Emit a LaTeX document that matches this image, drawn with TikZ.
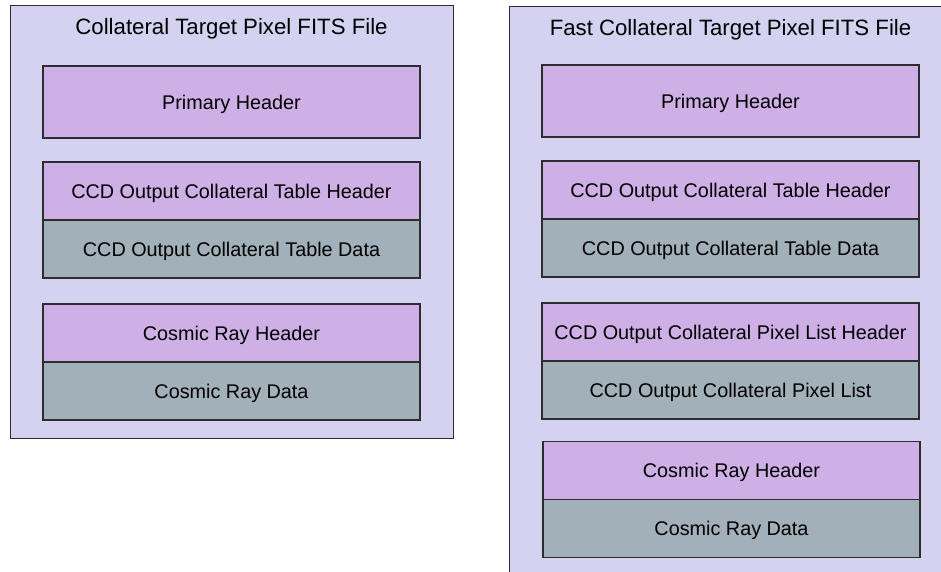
\documentclass[tikz,border=0pt]{standalone}
\usepackage{fontspec}
\setmainfont{Liberation Sans}
\usetikzlibrary{positioning}

\definecolor{filebg}{RGB}{212,210,240}
\definecolor{hdrfill}{RGB}{206,176,230}
\definecolor{datfill}{RGB}{162,176,186}
\definecolor{edgegray}{RGB}{45,45,45}

\tikzset{
  filebox/.style={draw=edgegray, fill=filebg, line width=1pt, minimum width=443pt, inner sep=0pt, outer sep=0pt},
  filetitle/.style={font=\fontsize{22.2}{24}\selectfont, inner sep=0pt, text height=15.9pt, text depth=0pt},
  hdrbox/.style={draw=edgegray, fill=hdrfill, line width=1.2pt, minimum width=377pt, minimum height=58pt,
    inner sep=0pt, outer sep=0pt, text height=14.2pt, text depth=0pt, font=\fontsize{19.8}{22}\selectfont},
  datbox/.style={hdrbox, fill=datfill},
}

\begin{document}
\begin{tikzpicture}[x=1pt,y=-1pt]
\clip (0,0) rectangle (941,572);
\fill[white] (0,0) rectangle (941,572);

% Collateral file
\node[filebox, minimum height=432pt] (lfile) at (231.5,222) {};
\node[filetitle] (ltitle) at (231.5,27) {Collateral Target Pixel FITS File};
\node[hdrbox, minimum height=72pt] (lprim) at (231.5,102) {Primary Header};
\node[hdrbox] (ltblhdr) at (231.5,191) {CCD Output Collateral Table Header};
\node[datbox, below=0pt of ltblhdr] (ltbldat) {CCD Output Collateral Table Data};
\node[hdrbox] (lcrhdr) at (231.5,333) {Cosmic Ray Header};
\node[datbox, below=0pt of lcrhdr] (lcrdat) {Cosmic Ray Data};

% Fast collateral file
\node[filebox, minimum height=600pt] (rfile) at (730.5,307) {};
\node[filetitle] (rtitle) at (730.5,28) {Fast Collateral Target Pixel FITS File};
\node[hdrbox, minimum height=72pt] (rprim) at (730.5,101) {Primary Header};
\node[hdrbox] (rtblhdr) at (730.5,190) {CCD Output Collateral Table Header};
\node[datbox, below=0pt of rtblhdr] (rtbldat) {CCD Output Collateral Table Data};
\node[hdrbox] (rpixhdr) at (730.5,332) {CCD Output Collateral Pixel List Header};
\node[datbox, below=0pt of rpixhdr] (rpixdat) {CCD Output Collateral Pixel List};
\node[hdrbox] (rcrhdr) at (731.5,470.5) {Cosmic Ray Header};
\node[datbox, below=0pt of rcrhdr] (rcrdat) {Cosmic Ray Data};

\end{tikzpicture}
\end{document}
